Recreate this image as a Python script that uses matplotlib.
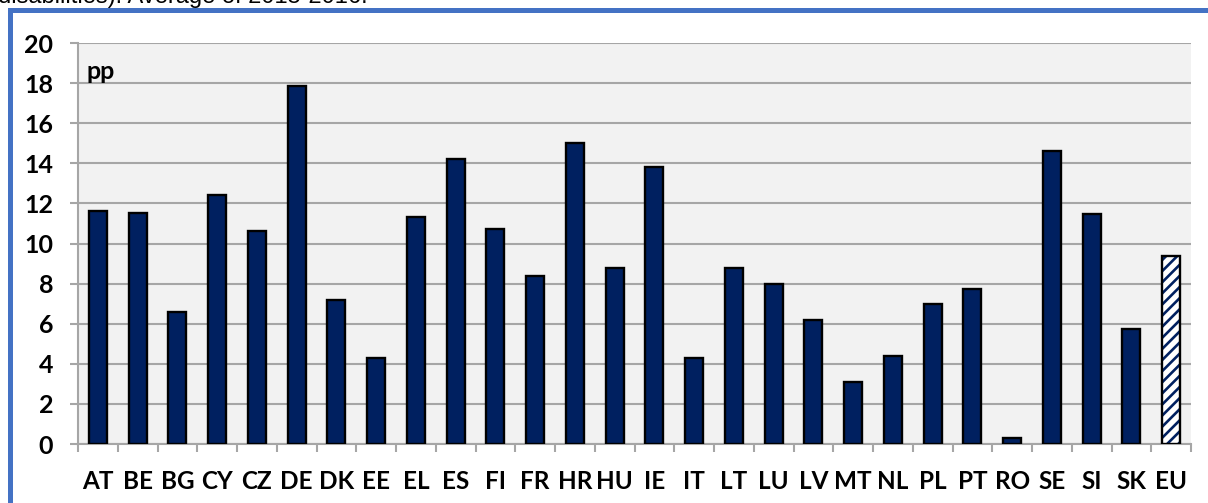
import matplotlib.pyplot as plt
import matplotlib.patches as patches

countries = ['AT', 'BE', 'BG', 'CY', 'CZ', 'DE', 'DK', 'EE', 'EL', 'ES', 'FI', 'FR', 'HR', 'HU',
             'IE', 'IT', 'LT', 'LU', 'LV', 'MT', 'NL', 'PL', 'PT', 'RO', 'SE', 'SI', 'SK', 'EU']
gap = [11.6, 11.5, 6.6, 12.4, 10.6, 17.85, 7.2, 4.3, 11.3, 14.2, 10.7, 8.4, 15.0, 8.8,
       13.8, 4.3, 8.8, 8.0, 6.2, 3.1, 4.4, 7.0, 7.75, 0.3, 14.6, 11.45, 5.75, 9.4]
yticks = [0, 2, 4, 6, 8, 10, 12, 14, 16, 18, 20]

navy = '#002060'
grid = '#a6a6a6'

plt.rcParams['font.family'] = ['Lato', 'DejaVu Sans']
plt.rcParams['hatch.linewidth'] = 1.9

W, H = 1208, 503
fig = plt.figure(figsize=(W / 100, H / 100), dpi=100)
ax = fig.add_axes([78 / W, (H - 444) / H, (1191 - 78) / W, (444 - 43) / H])
ax.set_facecolor('#f2f2f2')

x = list(range(len(countries)))
n = len(countries) - 1
ax.bar(x[:n], gap[:n], width=0.45, color=navy, edgecolor='black', linewidth=1.7, zorder=3)
# EU average: hatched bar
ax.bar(x[n], gap[n], width=0.45, color='white', edgecolor=navy, linewidth=0, hatch='///', zorder=3)
ax.bar(x[n], gap[n], width=0.45, color='none', edgecolor='black', linewidth=1.7, zorder=4)

ax.set_xlim(-0.5, len(countries) - 0.5)
ax.set_ylim(0, 20)
ax.set_yticks(yticks)
ax.set_yticklabels([str(v) for v in yticks], fontsize=18, fontweight='bold')
ax.yaxis.grid(True, color=grid, linewidth=1.5, zorder=0)
ax.tick_params(axis='y', length=6, width=1.5, color=grid, pad=12)

ax.set_xticks(x)
ax.set_xticklabels(countries, fontsize=17.5, fontweight='bold')
ax.set_xticks([i - 0.5 for i in range(len(countries) + 1)], minor=True)
ax.tick_params(axis='x', which='major', length=0, pad=19)
ax.tick_params(axis='x', which='minor', length=6, width=1.5, color=grid)

for s in ['top', 'right']:
    ax.spines[s].set_visible(False)
for s in ['left', 'bottom']:
    ax.spines[s].set_color(grid)
    ax.spines[s].set_linewidth(1.5)

ax.text(0.008, 0.93, 'pp', transform=ax.transAxes, fontsize=18, fontweight='bold', va='center')

# outer frame of the chart, partly cut by the picture
frame = patches.Rectangle((9.5 / W, -0.1), 1.2, (H - 10.5) / H + 0.1, transform=fig.transFigure,
                          fill=False, edgecolor='#4472c4', linewidth=3.6, clip_on=False)
fig.patches.append(frame)

fig.text(-2 / W, (H - 3) / H, 'disabilities). Average of 2015-2016.', fontsize=17,
         family=['Liberation Sans', 'DejaVu Sans'], va='baseline')

fig.savefig('out.png', dpi=100)
